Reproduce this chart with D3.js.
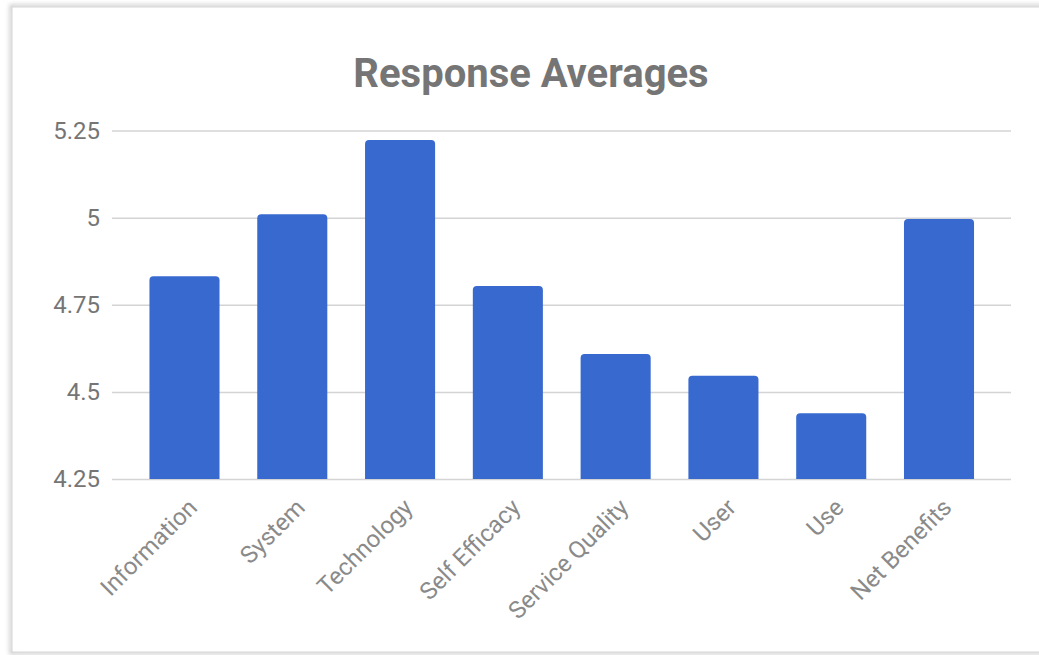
<!DOCTYPE html>
<html>
<head>
<meta charset="utf-8">
<script src="https://cdn.jsdelivr.net/npm/d3@7"></script>
<style>
  html, body { margin: 0; padding: 0; background: #fff; }
  svg { display: block; font-family: Roboto, "Noto Sans", sans-serif; }
</style>
</head>
<body>
<svg id="chart" width="1039" height="655"></svg>
<script>
  // chart data
  const categories = ['Information', 'System', 'Technology', 'Self Efficacy',
    'Service Quality', 'User', 'Use', 'Net Benefits'];
  const averages = [4.832, 5.01, 5.223, 4.804, 4.609, 4.546, 4.439, 4.996];
  const yTicks = [4.25, 4.5, 4.75, 5, 5.25];
  const yTickLabels = ['4.25', '4.5', '4.75', '5', '5.25'];
  const title = 'Response Averages';

  const svg = d3.select('#chart');
  const grey = '#757575';

  // card frame with soft shadow
  const defs = svg.append('defs');
  const blur = defs.append('filter').attr('id', 'shadow')
    .attr('x', '-5%').attr('y', '-5%').attr('width', '110%').attr('height', '110%');
  blur.append('feGaussianBlur').attr('stdDeviation', 2);

  svg.append('rect')
    .attr('x', 11).attr('y', 6).attr('width', 1100).attr('height', 647)
    .attr('fill', 'none').attr('stroke', '#c8c8c8').attr('stroke-width', 3)
    .attr('filter', 'url(#shadow)');
  svg.append('rect')
    .attr('x', 12).attr('y', 7).attr('width', 1100).attr('height', 645)
    .attr('fill', '#fff').attr('stroke', '#d6d6d6').attr('stroke-width', 1);

  // scales
  const x = d3.scaleBand()
    .domain(categories)
    .range([130.6, 992.9])
    .paddingInner(0.35)
    .paddingOuter(0.175);

  const y = d3.scaleLinear()
    .domain([4.25, 5.25])
    .range([479, 130.5]);

  // title
  svg.append('text')
    .attr('x', 531).attr('y', 87)
    .attr('text-anchor', 'middle')
    .attr('font-size', 40).attr('font-weight', 'bold')
    .attr('fill', grey)
    .text(title);

  // gridlines and y labels
  const yAxis = d3.axisLeft(y)
    .tickValues(yTicks)
    .tickFormat((d, i) => yTickLabels[i])
    .tickSize(-(1011 - 112))
    .tickPadding(12);

  const gy = svg.append('g')
    .attr('transform', 'translate(112,0)')
    .call(yAxis);
  gy.select('.domain').remove();
  gy.selectAll('.tick line').attr('stroke', '#d4d4d4').attr('stroke-width', 1.5);
  gy.selectAll('.tick text')
    .attr('fill', grey).attr('font-size', 24)
    .attr('font-family', 'Roboto, sans-serif');

  // bars with rounded tops
  const r = 4;
  svg.append('g').selectAll('path')
    .data(averages)
    .join('path')
    .attr('fill', '#3869cf')
    .attr('d', (d, i) => {
      const x0 = x(categories[i]), w = x.bandwidth();
      const top = y(d), bottom = y(4.25);
      return `M${x0},${bottom}V${top + r}Q${x0},${top} ${x0 + r},${top}` +
        `H${x0 + w - r}Q${x0 + w},${top} ${x0 + w},${top + r}V${bottom}Z`;
    });

  // rotated category labels
  svg.append('g').selectAll('text')
    .data(categories)
    .join('text')
    .attr('transform', d => `translate(${x(d) + x.bandwidth() / 2 + 2},${497}) rotate(-45)`)
    .attr('text-anchor', 'end')
    .attr('dy', '0.71em')
    .attr('font-size', 24)
    .attr('fill', '#8a8a8a')
    .text(d => d);
</script>
</body>
</html>
